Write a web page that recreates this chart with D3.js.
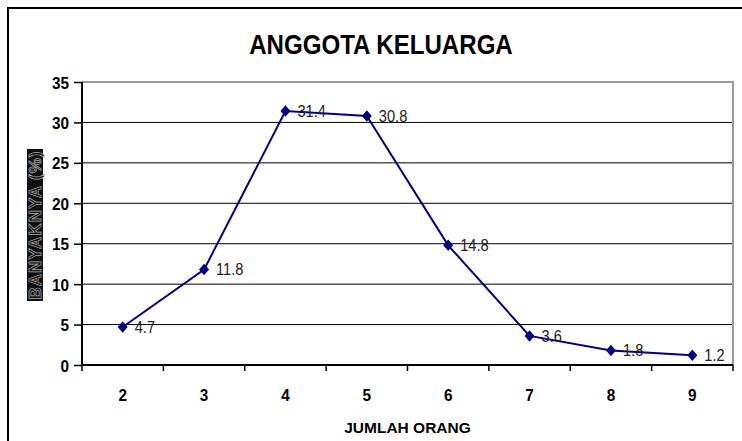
<!DOCTYPE html>
<html>
<head>
<meta charset="utf-8">
<script src="https://cdn.jsdelivr.net/npm/d3@7"></script>
<style>
	body { margin: 0; background: #fff; }
	text { font-family: "Liberation Sans", Arial, sans-serif; }
	.tick text { font-weight: bold; }
</style>
</head>
<body>
<div id="chart"></div>
<script>
// data
var categories = ["2", "3", "4", "5", "6", "7", "8", "9"];
var values = [4.7, 11.8, 31.4, 30.8, 14.8, 3.6, 1.8, 1.2];
var yTicks = [0, 5, 10, 15, 20, 25, 30, 35];

var W = 742, H = 441;
var margin = {left: 82, right: 9, top: 82, bottom: 76};
var width = W - margin.left - margin.right,
	height = H - margin.top - margin.bottom;

// the original text is a bit narrow: squeeze it horizontally
var squeeze = function(sel, k) {
	sel.each(function() {
		var len = this.getComputedTextLength();
		d3.select(this)
		.attr("textLength", len * k)
		.attr("lengthAdjust", "spacingAndGlyphs");
	});
}

var svg = d3.select("#chart").append("svg")
	.attr("width", W)
	.attr("height", H);

// outer frame
svg.append("path")
	.attr("d", "M8,441 V8 H742")
	.attr("fill", "none")
	.attr("stroke", "#000")
	.attr("stroke-width", 2);

// title
svg.append("text")
	.attr("x", 381)
	.attr("y", 54)
	.attr("text-anchor", "middle")
	.style("font-weight", "bold")
	.style("font-size", "28px")
	.text("ANGGOTA KELUARGA")
	.call(squeeze, 0.86);

var x = d3.scaleBand().domain(categories).range([0, width]);
var y = d3.scaleLinear().domain([0, 35]).range([height, 0]);

var g = svg.append("g")
	.attr("transform", "translate(" + margin.left + "," + margin.top + ")");

// gridlines
g.selectAll("line.grid")
	.data(yTicks.filter(function(d) { return d > 0 && d < 35; }))
	.enter().append("line")
	.attr("class", "grid")
	.attr("x1", 0).attr("x2", width)
	.attr("y1", function(d) { return y(d); })
	.attr("y2", function(d) { return y(d); })
	.attr("stroke", "#000")
	.attr("stroke-width", 1);

// plot area border top / right (gray)
g.append("path")
	.attr("d", "M0," + y(35) + " H" + width + " V" + height)
	.attr("fill", "none")
	.attr("stroke", "#999")
	.attr("stroke-width", 2);

// y axis
var yAxis = d3.axisLeft(y).tickValues(yTicks).tickSize(8).tickPadding(5);
var yg = g.append("g").call(yAxis);
yg.select(".domain").attr("stroke-width", 2).attr("d", "M0,0 V" + height);
yg.selectAll(".tick line").attr("stroke-width", 1.5);
yg.selectAll(".tick text").style("font-size", "17px").attr("dy", "0.36em")
	.call(squeeze, 0.9);

// x axis: ticks on category boundaries
var xAxis = d3.axisBottom(x).tickSize(0).tickPadding(24);
var xg = g.append("g")
	.attr("transform", "translate(0," + height + ")")
	.call(xAxis);
xg.select(".domain").attr("stroke-width", 2).attr("d", "M0,0 H" + width);
xg.selectAll(".tick text").style("font-size", "17px")
	.call(squeeze, 0.9);
xg.selectAll("line.sep")
	.data(categories)
	.enter().append("line")
	.attr("class", "sep")
	.attr("x1", function(d) { return x(d) + x.bandwidth(); })
	.attr("x2", function(d) { return x(d) + x.bandwidth(); })
	.attr("y1", 0).attr("y2", 6)
	.attr("stroke", "#000")
	.attr("stroke-width", 1.5);
xg.append("line")
	.attr("x1", 0).attr("x2", 0).attr("y1", 0).attr("y2", 6)
	.attr("stroke", "#000").attr("stroke-width", 1.5);

// x title
svg.append("text")
	.attr("x", margin.left + width / 2)
	.attr("y", 433)
	.attr("text-anchor", "middle")
	.style("font-weight", "bold")
	.style("font-size", "15.5px")
	.text("JUMLAH ORANG");

// y title: dark box, outlined letters
var yt = svg.append("g").attr("transform", "translate(35,225) rotate(-90)");
yt.append("rect")
	.attr("x", -76).attr("y", -8)
	.attr("width", 152).attr("height", 16)
	.attr("fill", "#111");
yt.append("text")
	.attr("text-anchor", "middle")
	.attr("dy", "0.36em")
	.style("font-size", "17px")
	.style("font-weight", "bold")
	.style("letter-spacing", "1px")
	.attr("fill", "#111")
	.attr("stroke", "#aaa")
	.attr("stroke-width", 0.7)
	.text("BANYAKNYA (%)");

// line
var cx = function(i) { return x(categories[i]) + x.bandwidth() / 2; };
var line = d3.line()
	.x(function(d, i) { return cx(i); })
	.y(function(d) { return y(d); });

g.append("path")
	.datum(values)
	.attr("d", line)
	.attr("fill", "none")
	.attr("stroke", "#000080")
	.attr("stroke-width", 2);

// markers: square turned on its corner, a little taller than wide
g.selectAll("path.pt")
	.data(values)
	.enter().append("path")
	.attr("class", "pt")
	.attr("d", d3.symbol().type(d3.symbolSquare).size(50))
	.attr("transform", function(d, i) {
		return "translate(" + cx(i) + "," + y(d) + ") scale(1,1.15) rotate(45)";
	})
	.attr("fill", "#000080");

// value labels
g.selectAll("text.val")
	.data(values)
	.enter().append("text")
	.attr("class", "val")
	.attr("x", function(d, i) { return cx(i) + 12; })
	.attr("y", function(d) { return y(d); })
	.attr("dy", "0.33em")
	.style("font-size", "17px")
	.attr("fill", "#222")
	.text(function(d) { return d.toFixed(1); })
	.call(squeeze, 0.86);
</script>
</body>
</html>
